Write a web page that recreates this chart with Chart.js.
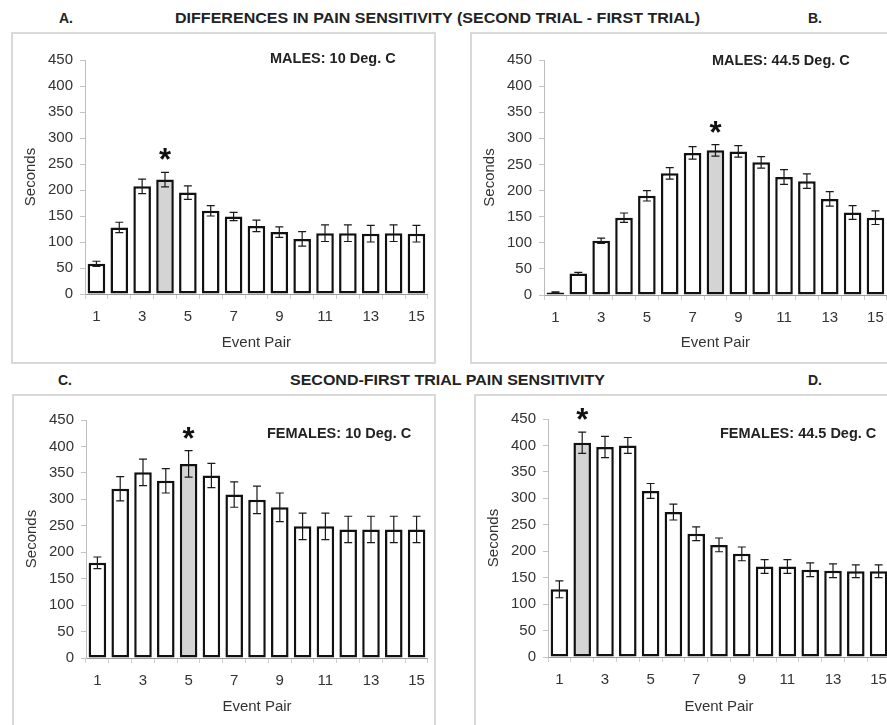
<!DOCTYPE html>
<html>
<head>
<meta charset="utf-8">
<script src="https://cdn.jsdelivr.net/npm/chart.js@4.4.0/dist/chart.umd.min.js"></script>
<style>
  html, body { margin: 0; padding: 0; background: #fff; }
  body { width: 887px; height: 725px; overflow: hidden; position: relative;
         font-family: "Liberation Sans", Arial, sans-serif; color: #222; }
  .hdr { position: absolute; font-weight: bold; font-size: 14px; line-height: 1;
         white-space: nowrap; transform-origin: 0 50%; }
  .panel { position: absolute; box-sizing: border-box; border: 2px solid #d9d9d9; background: #fff; }
  .panel canvas { position: absolute; left: 0; top: 0; }
</style>
</head>
<body>
<div class="hdr" style="left:59px;top:11px">A.</div>
<div class="hdr fit" style="left:175px;top:11px" data-w="525">DIFFERENCES IN PAIN SENSITIVITY (SECOND TRIAL - FIRST TRIAL)</div>
<div class="hdr" style="left:808px;top:11px">B.</div>
<div class="hdr" style="left:58px;top:373px">C.</div>
<div class="hdr fit" style="left:290px;top:373px" data-w="315">SECOND-FIRST TRIAL PAIN SENSITIVITY</div>
<div class="hdr" style="left:808px;top:373px">D.</div>

<div class="panel" style="left:11px;top:32px;width:425px;height:332px"><canvas id="chartA" width="421" height="328"></canvas></div>
<div class="panel" style="left:470px;top:32px;width:425px;height:332px"><canvas id="chartB" width="421" height="328"></canvas></div>
<div class="panel" style="left:12px;top:394px;width:424px;height:340px"><canvas id="chartC" width="420" height="329"></canvas></div>
<div class="panel" style="left:474px;top:394px;width:424px;height:340px"><canvas id="chartD" width="420" height="329"></canvas></div>

<script>
// Data
const eventPairs = ['1', '2', '3', '4', '5', '6', '7', '8', '9', '10', '11', '12', '13', '14', '15'];

const malesColdMeans = [58, 128, 207, 220, 195, 160, 149, 131, 119, 106, 117, 117, 116, 117, 116];
const malesColdErr   = [5, 10, 14, 14, 13, 10, 8, 11, 10, 14, 16, 16, 16, 16, 16];

const malesHotMeans = [5, 41, 104, 148, 190, 233, 272, 277, 275, 254, 226, 218, 184, 158, 148];
const malesHotErr   = [1, 2.5, 5, 9, 10, 11, 12, 11, 11, 11, 14, 14, 14, 13, 13];

const femalesColdMeans = [180, 320, 351, 335, 367, 345, 309, 299, 285, 249, 249, 243, 243, 243, 243];
const femalesColdErr   = [11, 23, 25, 23, 25, 23, 24, 26, 27, 25, 25, 25, 25, 25, 25];

const femalesHotMeans = [128, 405, 397, 400, 314, 274, 233, 212, 195, 171, 171, 165, 163, 162, 162];
const femalesHotErr   = [16, 20, 20, 15, 14, 15, 13, 13, 13, 13, 13, 13, 13, 12, 12];

// index of the starred (grey) bar in each panel
const starA = 3, starB = 7, starC = 4, starD = 1;

const FONT = '"Liberation Sans", Arial, sans-serif';
Chart.defaults.font.family = FONT;

// squeeze the bold headers to the condensed width of the original
document.querySelectorAll('.fit').forEach(el => {
    const w = el.getBoundingClientRect().width;
    el.style.transform = `scaleX(${el.dataset.w / w})`;
});

// error bars, asterisk and the panel caption
const annotPlugin = {
    id: 'annot',
    afterDatasetsDraw(chart, args, opts) {
        const { ctx } = chart;
        const y = chart.scales.y;
        const meta = chart.getDatasetMeta(0);
        const means = chart.data.datasets[0].data;
        ctx.save();
        ctx.strokeStyle = '#1a1a1a';
        ctx.lineWidth = 1.2;
        means.forEach((m, i) => {
            const e = opts.errors[i];
            const x = meta.data[i].x;
            const yt = y.getPixelForValue(m + e);
            const yb = y.getPixelForValue(Math.max(m - e, 0));
            ctx.beginPath();
            ctx.moveTo(x, yt); ctx.lineTo(x, yb);
            ctx.moveTo(x - 4, yt); ctx.lineTo(x + 4, yt);
            ctx.moveTo(x - 4, yb); ctx.lineTo(x + 4, yb);
            ctx.stroke();
        });

        // asterisk over the peak
        const s = opts.star;
        const sx = meta.data[s].x;
        const sy = y.getPixelForValue(means[s] + opts.errors[s]) - 18;
        ctx.font = `bold 31px ${FONT}`;
        ctx.textAlign = 'center';
        ctx.textBaseline = 'alphabetic';
        const mt = ctx.measureText('*');
        ctx.fillStyle = '#111';
        ctx.fillText('*', sx, sy + (mt.actualBoundingBoxAscent - mt.actualBoundingBoxDescent) / 2);

        // caption
        ctx.font = `bold 14.5px ${FONT}`;
        ctx.textAlign = 'left';
        ctx.textBaseline = 'middle';
        ctx.fillStyle = '#222';
        ctx.fillText(opts.label, opts.labelX, opts.labelY);
        ctx.restore();
    }
};

function buildChart(id, means, errors, star, label, geo) {
    const colors = means.map((_, i) => i === star ? '#d4d4d4' : '#ffffff');
    return new Chart(document.getElementById(id), {
        type: 'bar',
        data: {
            labels: eventPairs,
            datasets: [{
                data: means,
                backgroundColor: colors,
                borderColor: '#111',
                borderWidth: 2.5,
                borderSkipped: false,
                categoryPercentage: 1,
                barPercentage: 0.77
            }]
        },
        options: {
            responsive: false,
            animation: false,
            events: [],
            layout: { padding: { top: geo.top, right: geo.right, left: 0, bottom: 0 } },
            plugins: {
                legend: { display: false },
                tooltip: { enabled: false },
                annot: { errors: errors, star: star, label: label, labelX: geo.lx, labelY: geo.ly }
            },
            scales: {
                x: {
                    grid: { drawOnChartArea: false, drawTicks: true, tickLength: 5, color: '#cfcfcf' },
                    border: { color: '#9a9a9a', width: 1 },
                    ticks: {
                        autoSkip: false, maxRotation: 0, padding: 9, color: '#333',
                        font: { size: 15 },
                        callback: (v, i) => i % 2 === 0 ? eventPairs[i] : ''
                    },
                    title: { display: true, text: 'Event Pair', color: '#333', font: { size: 15 }, padding: { top: 0, bottom: geo.tb } },
                    afterFit: s => { s.height = geo.xh; }
                },
                y: {
                    min: 0,
                    max: 450,
                    ticks: { stepSize: 50, padding: 7, color: '#333', font: { size: 15 } },
                    grid: { drawOnChartArea: false, drawTicks: true, tickLength: 5, color: '#c4c4c4' },
                    border: { color: '#bdbdbd', width: 1 },
                    title: { display: true, text: 'Seconds', color: '#333', font: { size: 15 }, padding: { top: 9, bottom: 0 } },
                    afterFit: s => { s.width = geo.yw; }
                }
            }
        },
        plugins: [annotPlugin]
    });
}

buildChart('chartA', malesColdMeans, malesColdErr, starA, 'MALES: 10 Deg. C',
    { top: 26, right: 6, yw: 72, xh: 68, tb: 10, lx: 257, ly: 25 });
buildChart('chartB', malesHotMeans, malesHotErr, starB, 'MALES: 44.5 Deg. C',
    { top: 26, right: 6, yw: 72, xh: 67, tb: 10, lx: 240, ly: 27 });
buildChart('chartC', femalesColdMeans, femalesColdErr, starC, 'FEMALES: 10 Deg. C',
    { top: 24, right: 2, yw: 72, xh: 67, tb: 9, lx: 253, ly: 38 });
buildChart('chartD', femalesHotMeans, femalesHotErr, starD, 'FEMALES: 44.5 Deg. C',
    { top: 23, right: 1.5, yw: 72, xh: 68, tb: 9, lx: 244, ly: 38 });
</script>
</body>
</html>
